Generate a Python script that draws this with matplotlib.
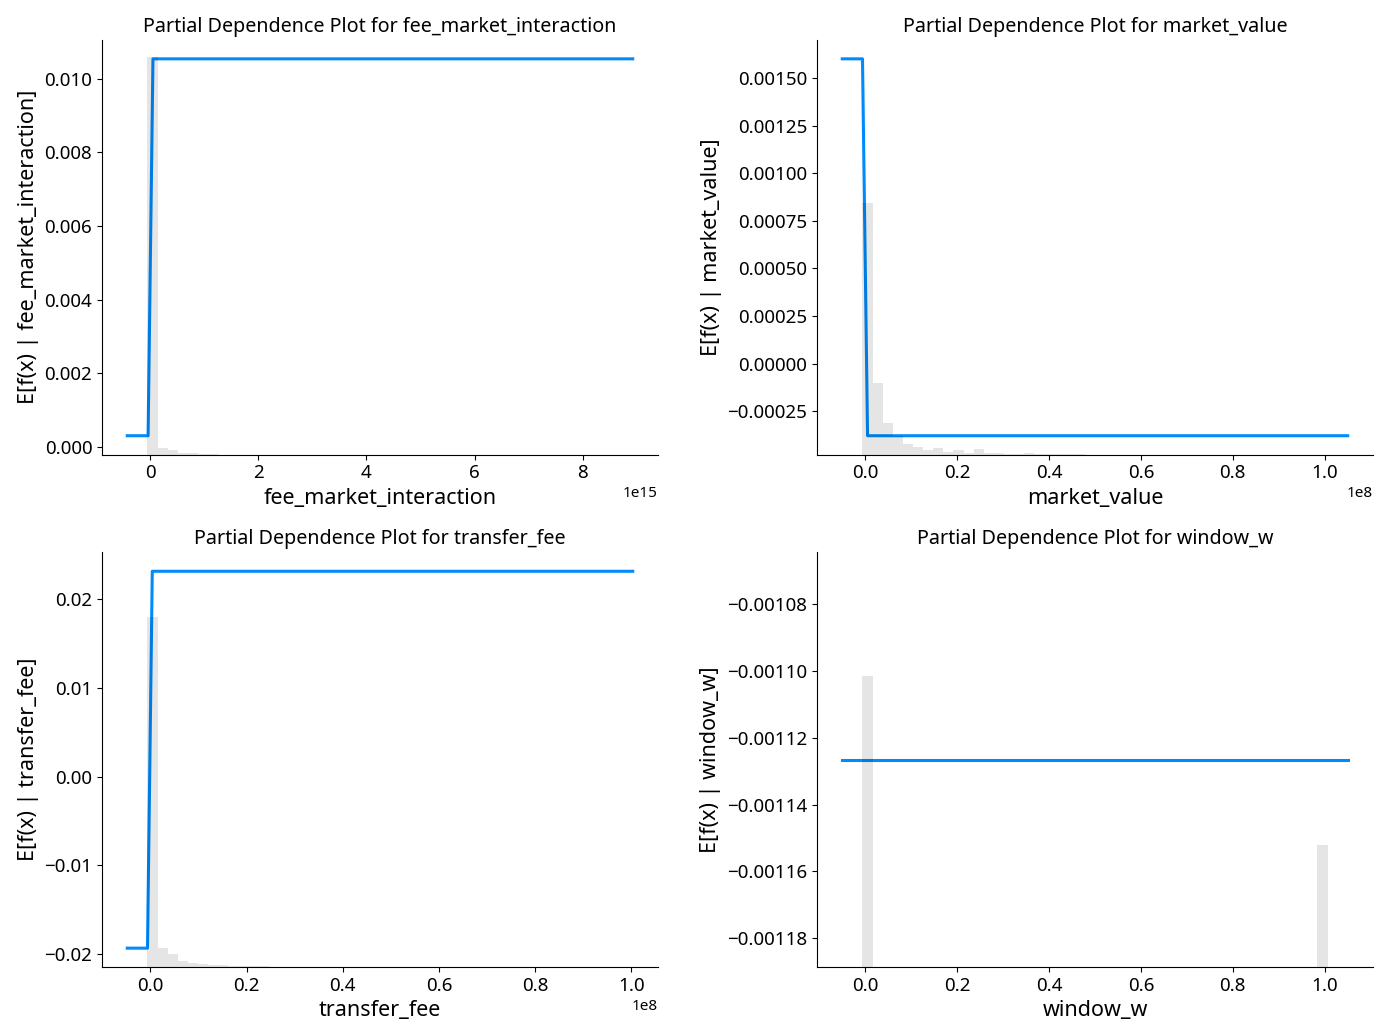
import numpy as np
import matplotlib
matplotlib.use('Agg')
import matplotlib.pyplot as plt

plt.rcParams['font.family'] = ['Noto Sans', 'DejaVu Sans']

blue = '#008afb'

features = ['fee_market_interaction', 'market_value', 'transfer_fee', 'window_w']

# x value where the step happens and the two levels of E[f(x)]
line_x = {
    'fee_market_interaction': [-0.425e15, -0.04e15, 0.05e15, 8.925e15],
    'market_value': [-0.05e8, -0.006e8, 0.005e8, 1.05e8],
    'transfer_fee': [-0.048e8, -0.006e8, 0.004e8, 1.003e8],
    'window_w': [-0.05, 1.05],
}
line_y = {
    'fee_market_interaction': [0.0003, 0.0003, 0.01054, 0.01054],
    'market_value': [0.0016, 0.0016, -0.000378, -0.000378],
    'transfer_fee': [-0.01932, -0.01932, 0.02316, 0.02316],
    'window_w': [-0.0011266, -0.0011266],
}

# histogram of the feature, 50 bins, heights as share of the sample count
hist_fee_market = [0, 0, 0.96, 0.017, 0.01, 0.005, 0.004, 0.002, 0.001]
hist_market_value = [0, 0, 0.607, 0.173, 0.077, 0.046, 0.026, 0.019, 0.01, 0.017,
                     0.007, 0.01, 0.004, 0.014, 0.003, 0.005, 0.002, 0.002, 0.003,
                     0.001, 0.002, 0.001, 0.002, 0.001]
hist_transfer_fee = [0, 0, 0.845, 0.046, 0.031, 0.015, 0.01, 0.007, 0.004, 0.004,
                     0.003, 0.002, 0.002, 0.002, 0.001, 0.001]
hist_window_w = [0, 0, 0.703] + [0] * 44 + [0.295]
hist_heights = {
    'fee_market_interaction': hist_fee_market,
    'market_value': hist_market_value,
    'transfer_fee': hist_transfer_fee,
    'window_w': hist_window_w,
}

fig, axes = plt.subplots(2, 2, figsize=(13.75, 10.19), dpi=100)
plt.subplots_adjust(left=102 / 1375, right=1373 / 1375, top=1 - 40 / 1019,
                    bottom=1 - 967 / 1019, wspace=0.286, hspace=0.236)

for ax1, name in zip(axes.flat, features):
    xs = line_x[name]
    ax1.plot(xs, line_y[name], color=blue, linewidth=2.2)

    # histogram on a hidden twin axis, same range as the line
    ax2 = ax1.twinx()
    edges = np.linspace(xs[0], xs[-1], 51)
    h = np.zeros(50)
    vals = hist_heights[name]
    h[:len(vals)] = vals
    ax2.bar(edges[:-1], h, width=edges[1] - edges[0], align='edge',
            color='black', alpha=0.1, linewidth=0)
    ax2.set_ylim(0, 1)
    ax2.set_yticks([])
    for s in ax2.spines.values():
        s.set_visible(False)

    ax1.spines['top'].set_visible(False)
    ax1.spines['right'].set_visible(False)
    ax1.tick_params(labelsize=13.5)
    ax1.xaxis.get_offset_text().set_fontsize(11)
    ax1.set_xlabel(name, fontsize=15.5)
    ax1.set_ylabel('E[f(x) | ' + name + ']', fontsize=15.5)
    ax1.set_title('Partial Dependence Plot for ' + name, fontsize=14.2)

fig.savefig('out.png', dpi=100)
